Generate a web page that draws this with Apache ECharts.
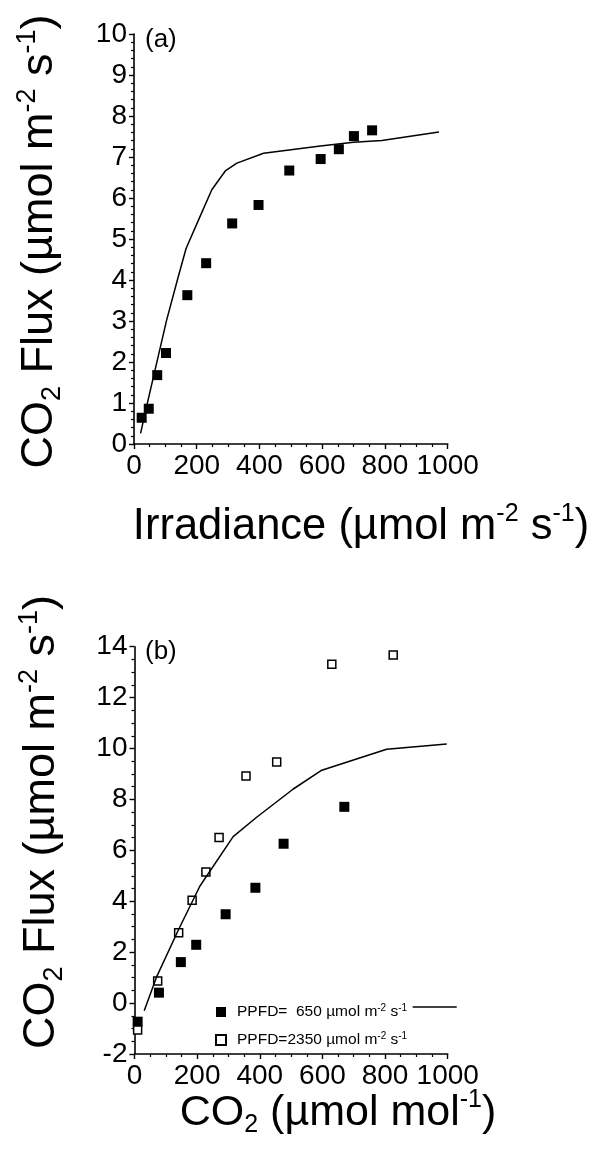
<!DOCTYPE html>
<html>
<head>
<meta charset="utf-8">
<script src="https://cdn.jsdelivr.net/npm/echarts@6/dist/echarts.min.js"></script>
<style>
html, body { margin: 0; padding: 0; background: #fff; }
#chart { width: 603px; height: 1163px; }
</style>
</head>
<body>
<div id="chart"></div>
<script>
// (a) flux vs irradiance
const irrX = [24.5, 47, 74, 102, 170, 230, 313, 397, 495, 595, 653, 701, 759];
const irrFlux = [0.64, 0.86, 1.68, 2.22, 3.63, 4.41, 5.38, 5.83, 6.67, 6.95, 7.19, 7.51, 7.65];
const irrFitX = [21, 40, 104, 140, 166, 210, 248, 291, 328, 413, 594, 700, 790, 972];
const irrFitY = [0.26, 0.91, 3.02, 4.05, 4.77, 5.54, 6.2, 6.66, 6.85, 7.09, 7.27, 7.36, 7.4, 7.61];

// (b) flux vs CO2
const lowX = [10, 78, 148, 197, 291, 386, 476, 670];
const lowFlux = [-0.73, 0.41, 1.61, 2.29, 3.49, 4.53, 6.26, 7.71];
const highX = [10, 74, 141, 184, 228, 270, 356, 454, 630, 826];
const highFlux = [-1.06, 0.87, 2.76, 4.04, 5.15, 6.5, 8.92, 9.47, 13.31, 13.67];
const co2FitX = [31, 71, 140, 209, 315, 390, 507, 598, 699, 805, 997];
const co2FitY = [-0.3, 1.04, 2.87, 4.6, 6.54, 7.3, 8.41, 9.15, 9.55, 9.97, 10.18];

const lowName = 'PPFD=  650';
const highName = 'PPFD=2350';

const FONT = '"Liberation Sans", Arial, sans-serif';
const pairs = (xs, ys) => xs.map((x, i) => [x, ys[i]]);

function xAxisCfg(gi) {
  return {
    type: 'value', gridIndex: gi, min: 0, max: 1000, interval: 200,
    axisLine: { show: true, onZero: false, lineStyle: { color: '#000', width: 1.6 } },
    axisTick: { show: true, inside: false, length: 5, lineStyle: { color: '#000', width: 1.4 } },
    minorTick: { show: true, splitNumber: 4, length: 3, lineStyle: { color: '#000', width: 1.2 } },
    splitLine: { show: false },
    axisLabel: { color: '#000', fontSize: 28, fontFamily: FONT, margin: 8, formatter: v => String(v) }
  };
}
function yAxisCfg(gi, min, max, step, minor) {
  return {
    type: 'value', gridIndex: gi, min: min, max: max, interval: step,
    axisLine: { show: true, onZero: false, lineStyle: { color: '#000', width: 1.6 } },
    axisTick: { show: true, inside: false, length: 5, lineStyle: { color: '#000', width: 1.4 } },
    minorTick: { show: true, splitNumber: minor, length: 3, lineStyle: { color: '#000', width: 1.2 } },
    splitLine: { show: false },
    axisLabel: { color: '#000', fontSize: 28, fontFamily: FONT, margin: 7, formatter: v => String(v) }
  };
}

// big axis titles with super/subscripts
function richFor(size, supSize) {
  return {
    n: { fontSize: size, fontFamily: FONT, lineHeight: size + 7, fill: '#000' },
    sup: { fontSize: supSize, fontFamily: FONT, lineHeight: 19, verticalAlign: 'top', fill: '#000' },
    sub: { fontSize: supSize, fontFamily: FONT, lineHeight: 19, verticalAlign: 'bottom', fill: '#000' }
  };
}
function label(x, y, rot, text, size, supSize) {
  return {
    type: 'text', x: x, y: y, rotation: rot, silent: true,
    style: { text: text, rich: richFor(size, supSize), align: 'center', verticalAlign: 'middle', fill: '#000' }
  };
}
const fluxTitle = '{n|CO}{sub|2}{n| Flux (\u00b5mol m}{sup|-2}{n| s}{sup|-1}{n|)}';

const chart = echarts.init(document.getElementById('chart'));
chart.setOption({
  backgroundColor: '#fff',
  animation: false,
  grid: [
    { left: 134, top: 34, width: 313.7, height: 410 },
    { left: 134.5, top: 646.7, width: 313.2, height: 407.3 }
  ],
  xAxis: [xAxisCfg(0), xAxisCfg(1)],
  yAxis: [yAxisCfg(0, 0, 10, 1, 5), yAxisCfg(1, -2, 14, 2, 4)],
  legend: {
    orient: 'vertical', left: 210, top: 998, itemWidth: 10, itemHeight: 10, itemGap: 11,
    data: [lowName, highName],
    formatter: name => '{g| }{n|' + name + ' \u00b5mol m}{s|-2}{n| s}{s|-1}',
    textStyle: {
      color: '#000',
      rich: {
        g: { width: 6 },
        n: { fontSize: 15.5, fontFamily: FONT, lineHeight: 18, color: '#000' },
        s: { fontSize: 10, fontFamily: FONT, lineHeight: 10, verticalAlign: 'top', color: '#000' }
      }
    }
  },
  graphic: [
    label(40, 241.5, Math.PI / 2, fluxTitle, 45, 27),
    label(42, 822, Math.PI / 2, fluxTitle, 45, 27),
    label(361, 527, 0, '{n|Irradiance (\u00b5mol m}{sup|-2}{n| s}{sup|-1}{n|)}', 43.5, 25),
    label(338, 1113, 0, '{n|CO}{sub|2}{n| (\u00b5mol mol}{sup|-1}{n|)}', 43, 25),
    { type: 'text', x: 145, y: 40, silent: true, style: { text: '(a)', font: '26px ' + FONT, fill: '#000', align: 'left', verticalAlign: 'middle' } },
    { type: 'text', x: 145, y: 652, silent: true, style: { text: '(b)', font: '26px ' + FONT, fill: '#000', align: 'left', verticalAlign: 'middle' } },
    { type: 'line', silent: true, shape: { x1: 412.7, y1: 1007, x2: 456.7, y2: 1007 }, style: { stroke: '#000', lineWidth: 1.5 } }
  ],
  series: [
    {
      type: 'line', xAxisIndex: 0, yAxisIndex: 0, data: pairs(irrFitX, irrFitY),
      showSymbol: false, lineStyle: { color: '#000', width: 1.5 }, silent: true
    },
    {
      type: 'scatter', xAxisIndex: 0, yAxisIndex: 0, data: pairs(irrX, irrFlux),
      symbol: 'rect', symbolSize: 10, itemStyle: { color: '#000', opacity: 1 }
    },
    {
      type: 'line', xAxisIndex: 1, yAxisIndex: 1, data: pairs(co2FitX, co2FitY),
      showSymbol: false, lineStyle: { color: '#000', width: 1.5 }, silent: true
    },
    {
      name: lowName, type: 'scatter', xAxisIndex: 1, yAxisIndex: 1, data: pairs(lowX, lowFlux),
      symbol: 'rect', symbolSize: 10, itemStyle: { color: '#000', opacity: 1 }
    },
    {
      name: highName, type: 'scatter', xAxisIndex: 1, yAxisIndex: 1, data: pairs(highX, highFlux),
      symbol: 'rect', symbolSize: 8, itemStyle: { color: '#fff', borderColor: '#000', borderWidth: 1.5, opacity: 1 }
    }
  ]
});
</script>
</body>
</html>
